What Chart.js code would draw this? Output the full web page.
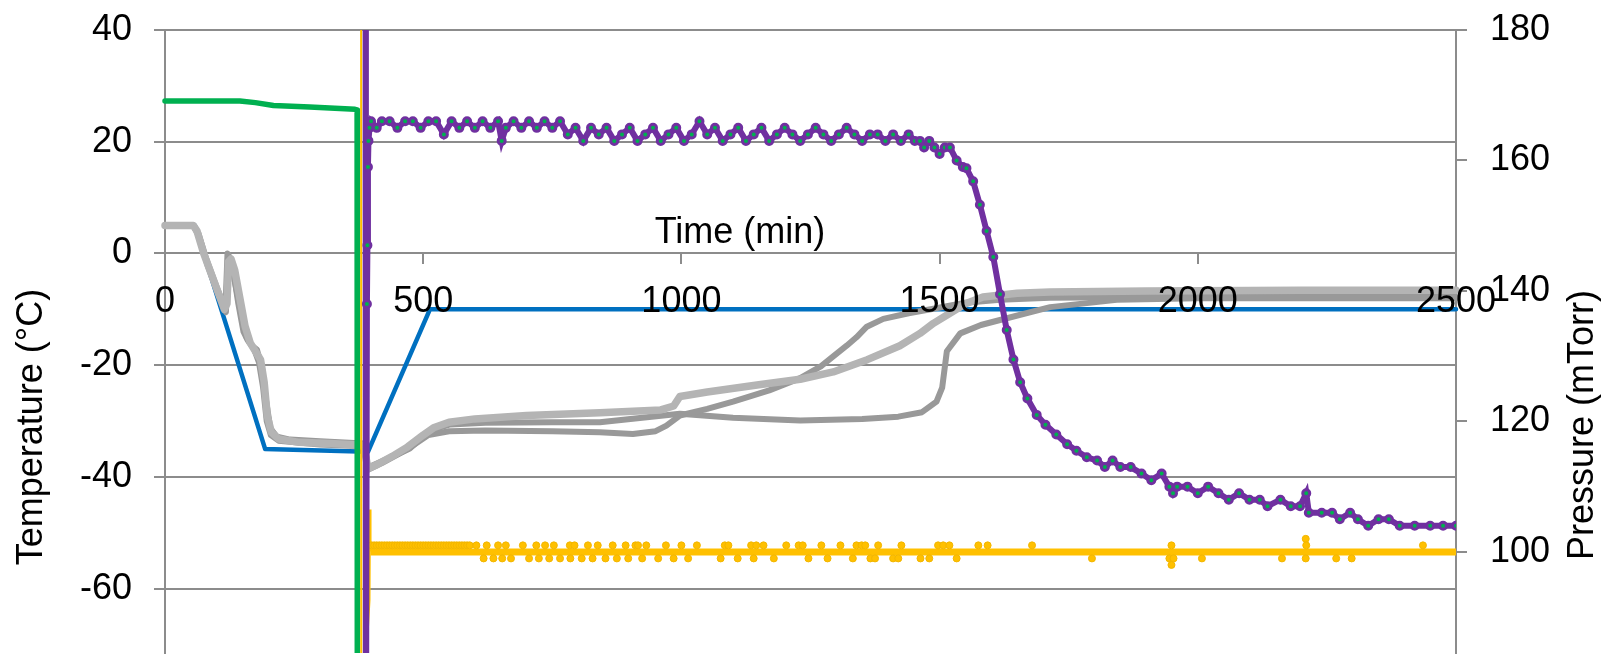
<!DOCTYPE html>
<html>
<head>
<meta charset="utf-8">
<script src="https://cdn.jsdelivr.net/npm/chart.js@4.4.0/dist/chart.umd.min.js"></script>
<style>
  html, body { margin: 0; padding: 0; background: #fff; }
  #wrap { width: 1603px; height: 660px; }
</style>
</head>
<body>
<div id="wrap"><canvas id="myChart" width="1603" height="660"></canvas></div>
<script>
// axis ticks
const timeTicks = [0, 500, 1000, 1500, 2000, 2500];
const tempTicks = [40, 20, 0, -20, -40, -60];
const pressTicks = [180, 160, 140, 120, 100];

// [time (min), temperature (°C)]
const shelfSetpoint = [[0, 5], [58, 5], [194, -35], [393, -35.5], [513, -10], [2500, -10]];

const chamberTemp = [[0, 27.3], [145, 27.3], [175, 27], [210, 26.5], [280, 26.2], [368, 25.8], [372, 25.7], [372.5, -100]];

const productLight = [[0, 5], [55, 5], [62, 4], [75, 0], [95, -5], [115, -10], [120, -9], [123, -1.5], [128, -1],
  [135, -3], [145, -8], [155, -13], [165, -16], [175, -17.5], [185, -19], [192, -23], [198, -29], [206, -32],
  [220, -33.2], [260, -33.8], [320, -34], [385, -34.3], [393, -38.5], [410, -37.8], [440, -36.3], [470, -34.6],
  [500, -32.5], [520, -31.2], [550, -30.2], [600, -29.6], [700, -29], [842, -28.5], [960, -28], [985, -27.3],
  [997, -25.6], [1050, -24.8], [1150, -23.5], [1230, -22.5], [1294, -21.2], [1360, -19], [1423, -16.5],
  [1462, -14.3], [1488, -12.5], [1520, -10.7], [1550, -9], [1584, -7.8], [1650, -7.1], [1714, -6.9],
  [1900, -6.7], [2200, -6.6], [2500, -6.6]];

const productDark1 = [[0, 5], [55, 5], [65, 3.5], [80, -1], [100, -6], [117, -10], [121, 0], [124, -0.5], [132, -3],
  [142, -9], [152, -14], [160, -15.5], [172, -17], [182, -19.5], [190, -24], [197, -30], [205, -32.5],
  [220, -33.5], [300, -34.2], [385, -34.5], [393, -38.7], [420, -37.5], [470, -35], [510, -32.5], [550, -31.8],
  [620, -31.7], [750, -31.8], [842, -32], [906, -32.3], [950, -31.8], [971, -30.8], [997, -29], [1050, -27.8],
  [1100, -26.5], [1170, -24.5], [1230, -22.3], [1270, -20.2], [1294, -18.4], [1320, -16.5], [1339, -15],
  [1359, -13.1], [1391, -11.7], [1440, -10.7], [1488, -9.9], [1550, -8.8], [1617, -8.3], [1714, -7.9],
  [1900, -7.8], [2200, -7.8], [2500, -7.8]];

const productDark2 = [[0, 5], [55, 5], [66, 3], [82, -2], [102, -7], [118, -10.5], [122, -0.7], [126, -1], [133, -4],
  [145, -9.5], [158, -15], [168, -16.5], [178, -17.2], [188, -20.5], [196, -26.5], [204, -31.3], [217, -32.8],
  [242, -33.3], [300, -33.6], [385, -34], [393, -38.3], [420, -37.2], [474, -34.9], [513, -31.7], [552, -30.6],
  [620, -30.3], [750, -30.2], [842, -30.2], [997, -28.7], [1100, -29.4], [1230, -29.9], [1350, -29.6],
  [1420, -29.2], [1466, -28.4], [1494, -26.5], [1505, -24], [1514, -17.5], [1540, -14.3], [1580, -12.8],
  [1617, -11.9], [1714, -9.6], [1843, -8.3], [2000, -8.0], [2500, -8.0]];

// [time (min), pressure (mTorr)]
const piraniPressure = [[388, 300], [389, 60], [391, 138], [392, 147], [393, 159], [394, 163], [396, 165], [399, 166],
  [410, 165], [420, 166], [435, 166], [450, 165], [465, 166], [480, 166], [495, 165], [510, 166], [525, 166],
  [540, 164], [555, 166], [570, 165], [585, 166], [600, 165], [615, 166], [630, 165], [645, 166], [652, 163],
  [660, 165], [675, 166], [690, 165], [705, 166], [720, 165], [735, 166], [750, 165], [765, 166], [780, 164],
  [795, 165], [810, 163], [825, 165], [840, 164], [855, 165], [870, 163], [885, 164], [900, 165], [915, 163],
  [930, 164], [945, 165], [960, 163], [975, 164], [990, 165], [1005, 163], [1020, 164], [1035, 166], [1050, 164],
  [1065, 165], [1080, 163], [1095, 164], [1110, 165], [1125, 163], [1140, 164], [1155, 165], [1170, 163],
  [1185, 164], [1200, 165], [1215, 164], [1230, 163], [1245, 164], [1260, 165], [1275, 164], [1290, 163],
  [1305, 164], [1320, 165], [1335, 164], [1350, 163], [1365, 164], [1380, 164], [1395, 163], [1410, 164],
  [1425, 163], [1440, 164], [1452, 163], [1462, 163], [1470, 162], [1480, 163], [1490, 162], [1500, 161],
  [1510, 162], [1520, 162], [1533, 160], [1545, 159], [1552, 158.8], [1565, 156.8], [1578, 153.2],
  [1591, 149.2], [1604, 145.2], [1617, 139.5], [1630, 134], [1643, 129.5], [1656, 126], [1670, 123.5],
  [1688, 121], [1705, 119.5], [1726, 118], [1747, 116.5], [1765, 115.5], [1785, 114.5], [1805, 114],
  [1820, 113], [1835, 114], [1850, 113], [1870, 113], [1891, 112], [1910, 111], [1930, 112], [1945, 110],
  [1952, 109], [1960, 110], [1980, 110], [2000, 109], [2020, 110], [2040, 109], [2060, 108], [2080, 109],
  [2100, 108], [2120, 108], [2135, 107], [2160, 108], [2180, 107], [2198, 107], [2210, 109], [2215, 106],
  [2240, 106], [2260, 106], [2275, 105], [2295, 106], [2310, 105], [2330, 104], [2350, 105], [2370, 105],
  [2391, 104], [2420, 104], [2450, 104], [2475, 104], [2500, 104]];

const cmPressure = [[379.5, 300], [380, 70], [396, 92.6], [397, 106.5], [398, 100], [2500, 100]];

const cmBlips = [[400, 101], [405, 101], [410, 101], [415, 101], [420, 101], [425, 101], [430, 101], [435, 101],
  [440, 101], [445, 101], [450, 101], [455, 101], [460, 101], [465, 101], [470, 101], [475, 101], [480, 101],
  [485, 101], [490, 101], [495, 101], [500, 101], [505, 101], [510, 101], [515, 101], [520, 101], [525, 101],
  [530, 101], [535, 101], [540, 101], [545, 101], [550, 101], [555, 101], [560, 101], [565, 101], [570, 101],
  [575, 101], [580, 101], [585, 101], [590, 101],
  [603, 101], [623, 101], [645, 101], [660, 101], [693, 101], [719, 101], [736, 101], [753, 101], [784, 101],
  [793, 101], [819, 101], [838, 101], [867, 101], [892, 101], [911, 101], [916, 101], [932, 101], [970, 101],
  [1000, 101], [1030, 101], [1084, 101], [1091, 101], [1135, 101], [1145, 101], [1159, 101], [1203, 101],
  [1227, 101], [1235, 101], [1271, 101], [1308, 101], [1339, 101], [1349, 101], [1356, 101], [1381, 101],
  [1426, 101], [1497, 101], [1507, 101], [1519, 101], [1575, 101], [1593, 101], [1679, 101], [1949, 101],
  [2209, 102], [2210, 101], [2436, 101],
  [617, 99], [636, 99], [653, 99], [670, 99], [705, 99], [724, 99], [744, 99], [765, 99], [785, 99], [807, 99],
  [828, 99], [853, 99], [875, 99], [897, 99], [924, 99], [955, 99], [985, 99], [1013, 99], [1076, 99],
  [1109, 99], [1140, 99], [1179, 99], [1246, 99], [1283, 99], [1332, 99], [1366, 99], [1375, 99], [1410, 99],
  [1420, 99], [1463, 99], [1480, 99], [1533, 99], [1795, 99], [1945, 99], [1949, 98], [1953, 99], [2008, 99],
  [2163, 99], [2209, 99], [2268, 99], [2298, 99]];

const gridGray = '#8c8c8c';
const fontFamily = "'Liberation Sans', Arial, sans-serif";

Chart.defaults.font.family = fontFamily;
Chart.defaults.font.size = 36;
Chart.defaults.color = '#000';

function toPoints(arr) {
  return arr.map(p => ({ x: p[0], y: p[1] }));
}

function lineSet(data, color, width, order, axis) {
  return {
    data: toPoints(data),
    yAxisID: axis,
    borderColor: color,
    borderWidth: width,
    pointRadius: 0,
    borderCapStyle: 'round',
    borderJoinStyle: 'round',
    tension: 0,
    order: order,
    clip: { left: 6, right: 6, top: 0, bottom: 0 }
  };
}

// axis titles sit where the original put them
const axisTitles = {
  id: 'axisTitles',
  afterDraw(chart) {
    const c = chart.ctx;
    c.save();
    c.fillStyle = '#000';
    c.font = '36px ' + fontFamily;
    c.textAlign = 'center';
    c.textBaseline = 'alphabetic';
    c.fillText('Time (min)', 740, 243);
    c.restore();

    c.save();
    c.fillStyle = '#000';
    c.font = '36px ' + fontFamily;
    c.textAlign = 'center';
    c.translate(42, 427);
    c.rotate(-Math.PI / 2);
    c.fillText('Temperature (°C)', 0, 0);
    c.restore();

    c.save();
    c.fillStyle = '#000';
    c.font = '36px ' + fontFamily;
    c.textAlign = 'center';
    c.translate(1593, 425);
    c.rotate(-Math.PI / 2);
    c.fillText('Pressure (mTorr)', 0, 0);
    c.restore();
  }
};

const purpleSet = {
  data: toPoints(piraniPressure),
  yAxisID: 'y1',
  borderColor: '#7030A0',
  borderWidth: 6,
  pointRadius: 3.5,
  pointBorderWidth: 3,
  pointBackgroundColor: '#00B050',
  pointBorderColor: '#7030A0',
  tension: 0,
  order: 0
};

const yellowSet = {
  data: toPoints(cmPressure),
  yAxisID: 'y1',
  borderColor: '#FFC000',
  borderWidth: 7,
  pointRadius: 0,
  tension: 0,
  order: 2,
  segment: {
    borderWidth: ctx => ctx.p0DataIndex < 4 ? 2 : 7
  }
};

const yellowBlips = {
  data: toPoints(cmBlips),
  yAxisID: 'y1',
  showLine: false,
  pointRadius: 3.5,
  pointBorderWidth: 1,
  pointBackgroundColor: '#FFC000',
  pointBorderColor: '#F2B600',
  order: 1
};

const ctx = document.getElementById('myChart').getContext('2d');
const myChart = new Chart(ctx, {
  type: 'line',
  data: {
    datasets: [
      purpleSet,
      yellowBlips,
      yellowSet,
      lineSet(chamberTemp, '#00B050', 5.5, 3, 'y'),
      lineSet(productLight, '#B4B4B4', 7.5, 4, 'y'),
      lineSet(productDark1, '#999999', 6, 5, 'y'),
      lineSet(productDark2, '#999999', 6, 6, 'y'),
      lineSet(shelfSetpoint, '#0070C0', 4.5, 7, 'y')
    ]
  },
  options: {
    responsive: false,
    animation: false,
    layout: { padding: { top: 30, left: 0, right: 0, bottom: 0 } },
    plugins: {
      legend: { display: false },
      tooltip: { enabled: false }
    },
    scales: {
      x: {
        type: 'linear',
        min: 0,
        max: 2500,
        position: { y: 0 },
        afterBuildTicks: s => { s.ticks = timeTicks.map(v => ({ value: v })); },
        afterFit: s => { s.height = 0; s.paddingLeft = 0; s.paddingRight = 0; },
        grid: { drawOnChartArea: false, drawTicks: true, tickLength: 11, color: gridGray, lineWidth: 2 },
        border: { display: false },
        ticks: { z: 1, padding: 16, autoSkip: false, maxRotation: 0, color: '#000', callback: v => String(v) }
      },
      y: {
        type: 'linear',
        position: 'left',
        min: -71.5,
        max: 40,
        afterBuildTicks: s => { s.ticks = tempTicks.map(v => ({ value: v })); },
        afterFit: s => { s.width = 165; s.paddingTop = 0; s.paddingBottom = 0; },
        grid: { color: gridGray, lineWidth: 2, tickLength: 11 },
        border: { color: gridGray, width: 2 },
        ticks: { padding: 22, color: '#000', callback: v => String(v) }
      },
      y1: {
        type: 'linear',
        position: 'right',
        min: 84.5,
        max: 180,
        afterBuildTicks: s => { s.ticks = pressTicks.map(v => ({ value: v })); },
        afterFit: s => { s.width = 147; s.paddingTop = 0; s.paddingBottom = 0; },
        grid: { drawOnChartArea: false, color: gridGray, lineWidth: 2, tickLength: 11 },
        border: { color: gridGray, width: 2 },
        ticks: { padding: 23, color: '#000', callback: v => String(v) }
      }
    }
  },
  plugins: [axisTitles]
});
</script>
</body>
</html>
